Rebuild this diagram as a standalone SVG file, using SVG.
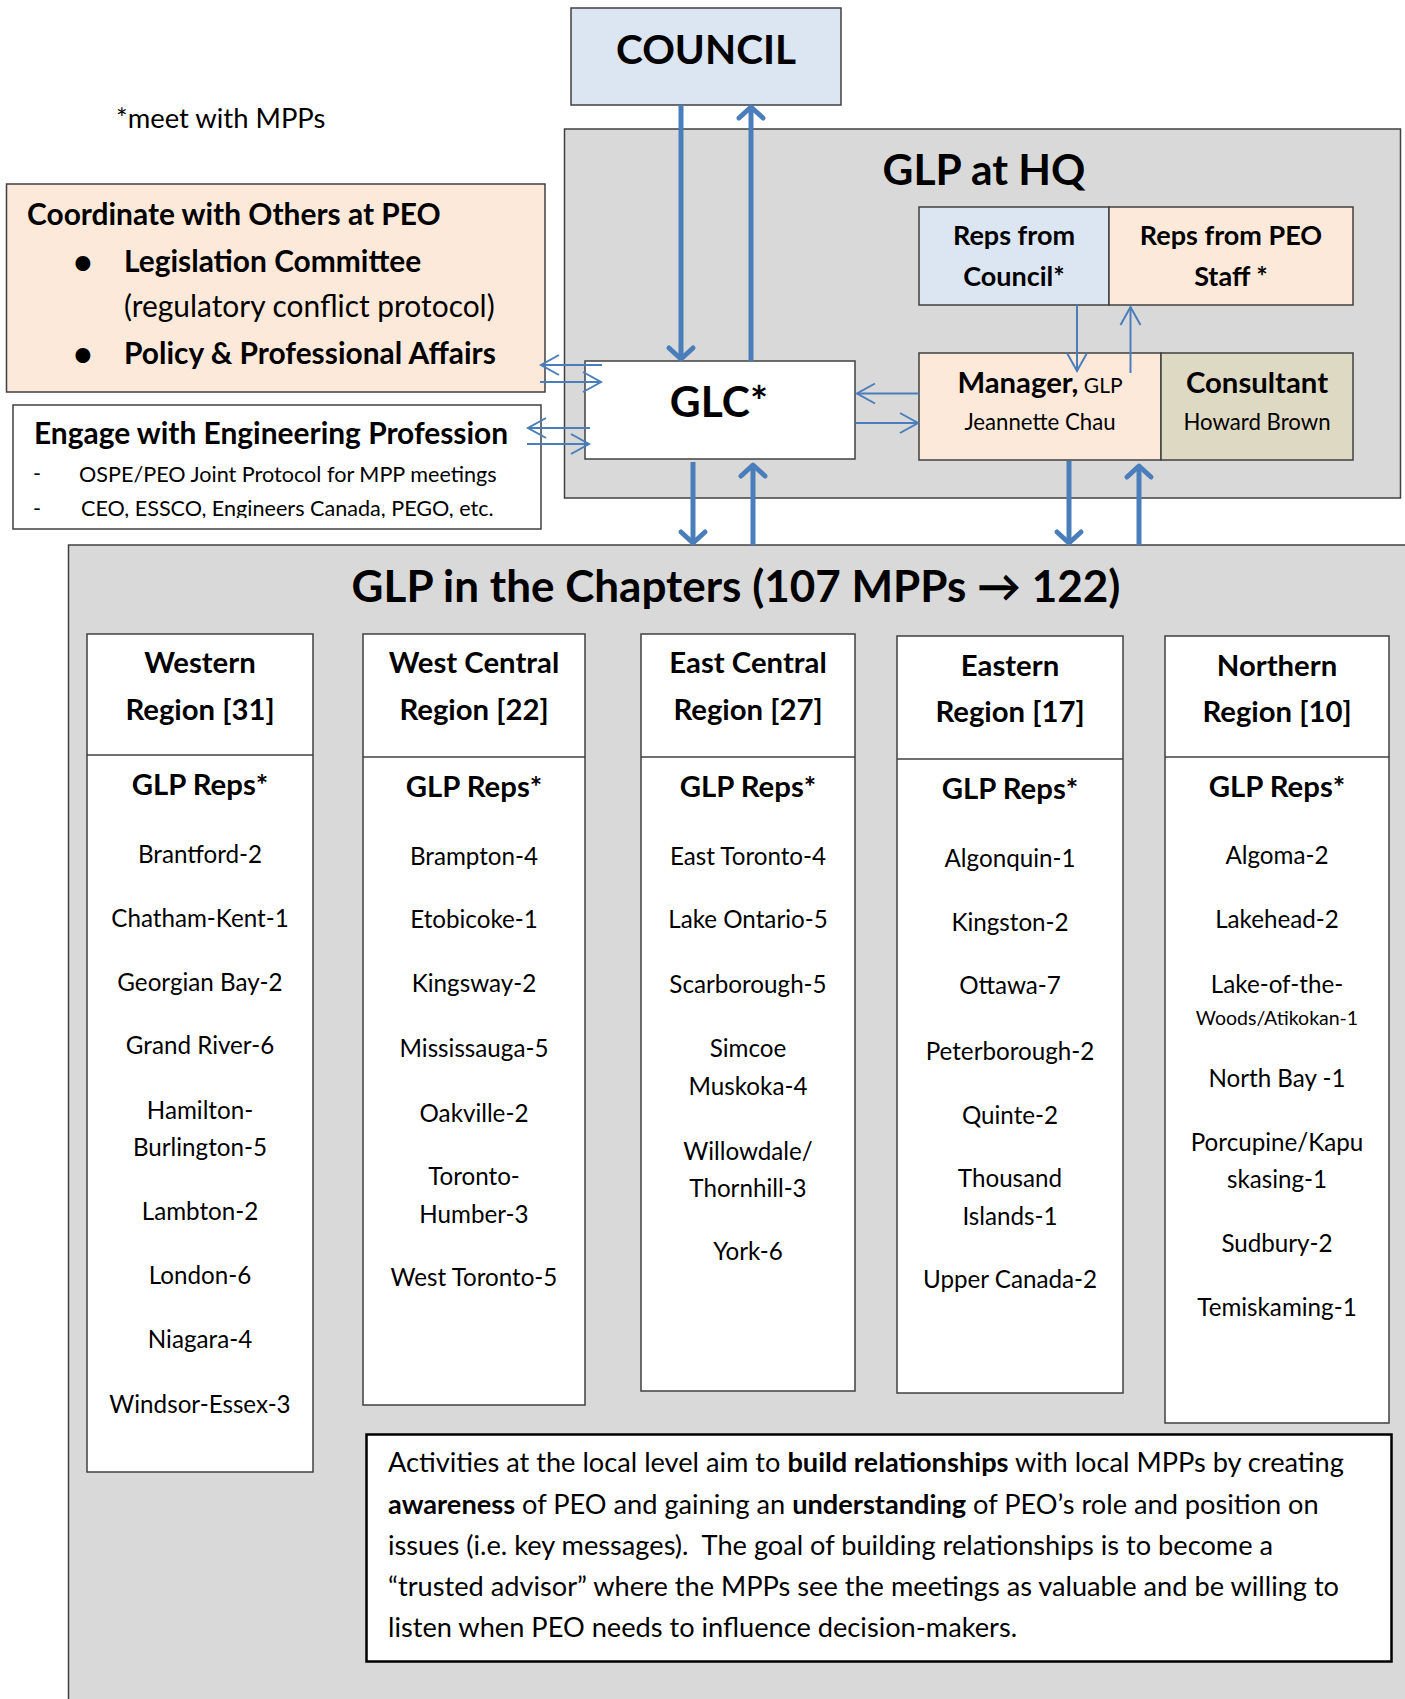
<svg xmlns="http://www.w3.org/2000/svg" width="1405" height="1699" viewBox="0 0 1405 1699">
<defs>
<style>
text{font-family:Lato,"Open Sans","Liberation Sans",sans-serif;fill:#000}
.b{font-weight:bold}
.c{text-anchor:middle}
.box{stroke:#404040;stroke-width:1.5}
.gray{fill:#D9D9D9}
.blue{fill:#DCE6F2}
.peach{fill:#FDE9D9}
.olive{fill:#DDD9C3}
.white{fill:#FFFFFF}
.e{font-size:24.2px}
.h{font-size:29.3px;font-weight:bold}
.big{font-size:42.5px;font-weight:bold}
.cb{font-size:29.9px}
.p{font-size:27.2px}
.thick{stroke:#4A7EBB;stroke-width:5;fill:none}
.thin{stroke:#4A7EBB;stroke-width:2;fill:none}
</style>
<marker id="mk" markerUnits="userSpaceOnUse" markerWidth="40" markerHeight="40" viewBox="-20 -20 40 40" refX="0" refY="0" orient="auto" overflow="visible">
<path d="M-11,-12 L0,0 L-11,12" fill="none" stroke="#4A7EBB" stroke-width="5" stroke-linecap="round" stroke-linejoin="round"/>
</marker>
<marker id="mt" markerUnits="userSpaceOnUse" markerWidth="40" markerHeight="40" viewBox="-20 -20 40 40" refX="0" refY="0" orient="auto" overflow="visible">
<path d="M-18,-10 L0,0 L-18,10" fill="none" stroke="#4A7EBB" stroke-width="2"/>
</marker>
<clipPath id="engclip"><rect x="13" y="405" width="528" height="113"/></clipPath>
</defs>
<rect width="1405" height="1699" fill="#FFFFFF"/>

<g id="hq-area">
<rect class="box gray" x="564.5" y="129" width="836" height="369"/>
<text class="big c" x="984" y="185">GLP at HQ</text>
</g>

<g id="chapters-area">
<rect class="box gray" x="68.5" y="545" width="1340" height="1200"/>
<text class="c b" x="736" y="602" style="font-size:44px">GLP in the Chapters (107 MPPs → 122)</text>
</g>

<text id="note" x="116" y="128" style="font-size:27.4px">*meet with MPPs</text>

<g id="council">
<rect class="box blue" x="571" y="8" width="270" height="97"/>
<text class="c b" x="706" y="64" style="font-size:40.5px">COUNCIL</text>
</g>

<g id="glc">
<rect class="box white" x="585" y="361" width="270" height="98"/>
<text class="big c" x="719" y="417">GLC*</text>
</g>

<g id="reps-council">
<rect class="box blue" x="919" y="207" width="190" height="98"/>
<text class="c b" x="1014" y="245" style="font-size:27px">Reps from</text>
<text class="c b" x="1014" y="286" style="font-size:27px">Council*</text>
</g>

<g id="reps-staff">
<rect class="box peach" x="1109" y="207" width="244" height="98"/>
<text class="c b" x="1231" y="245" style="font-size:27px">Reps from PEO</text>
<text class="c b" x="1231" y="286" style="font-size:27px">Staff *</text>
</g>

<g id="manager">
<rect class="box peach" x="919" y="353" width="242" height="107"/>
<text class="c" x="1040" y="393"><tspan class="b" style="font-size:29.3px">Manager,</tspan><tspan style="font-size:21px"> GLP</tspan></text>
<text class="c" x="1040" y="430" style="font-size:22.2px">Jeannette Chau</text>
</g>

<g id="consultant">
<rect class="box olive" x="1161" y="353" width="192" height="107"/>
<text class="c b" x="1257" y="393" style="font-size:29.3px">Consultant</text>
<text class="c" x="1257" y="430" style="font-size:22.2px">Howard Brown</text>
</g>

<g id="coordinate">
<rect class="box peach" x="6.5" y="184" width="538.5" height="208"/>
<text class="b cb" x="27" y="225">Coordinate with Others at PEO</text>
<text class="b" x="73" y="274" style="font-size:34px">•</text>
<text class="b cb" x="124" y="272">Legislation Committee</text>
<text class="cb" x="124" y="317">(regulatory conflict protocol)</text>
<text class="b" x="73" y="366" style="font-size:34px">•</text>
<text class="b cb" x="124" y="364">Policy &amp; Professional Affairs</text>
</g>

<g id="engage">
<rect class="box white" x="13" y="405" width="528" height="124"/>
<text class="b cb" x="34" y="444">Engage with Engineering Profession</text>
<g clip-path="url(#engclip)">
<text x="33" y="481" style="font-size:21.6px">-</text>
<text x="79" y="482" style="font-size:21.6px">OSPE/PEO Joint Protocol for MPP meetings</text>
<text x="33" y="516" style="font-size:21.6px">-</text>
<text x="81" y="516" style="font-size:21.6px">CEO, ESSCO, Engineers Canada, PEGO, etc.</text>
</g>
</g>

<g id="western">
<rect class="box white" x="87" y="634" width="226" height="838"/>
<line class="box" x1="87" y1="755" x2="313" y2="755"/>
<text class="h c" x="200" y="673">Western</text>
<text class="h c" x="200" y="720">Region [31]</text>
<text class="h c" x="200" y="795">GLP Reps*</text>
<text class="e c" x="200" y="863">Brantford-2</text>
<text class="e c" x="200" y="927">Chatham-Kent-1</text>
<text class="e c" x="200" y="991">Georgian Bay-2</text>
<text class="e c" x="200" y="1054">Grand River-6</text>
<text class="e c" x="200" y="1119">Hamilton-</text>
<text class="e c" x="200" y="1156">Burlington-5</text>
<text class="e c" x="200" y="1220">Lambton-2</text>
<text class="e c" x="200" y="1284">London-6</text>
<text class="e c" x="200" y="1348">Niagara-4</text>
<text class="e c" x="200" y="1413">Windsor-Essex-3</text>
</g>

<g id="west-central">
<rect class="box white" x="363" y="634" width="222" height="771"/>
<line class="box" x1="363" y1="757" x2="585" y2="757"/>
<text class="h c" x="474" y="673">West Central</text>
<text class="h c" x="474" y="720">Region [22]</text>
<text class="h c" x="474" y="797">GLP Reps*</text>
<text class="e c" x="474" y="865">Brampton-4</text>
<text class="e c" x="474" y="928">Etobicoke-1</text>
<text class="e c" x="474" y="992">Kingsway-2</text>
<text class="e c" x="474" y="1057">Mississauga-5</text>
<text class="e c" x="474" y="1122">Oakville-2</text>
<text class="e c" x="474" y="1185">Toronto-</text>
<text class="e c" x="474" y="1223">Humber-3</text>
<text class="e c" x="474" y="1286">West Toronto-5</text>
</g>

<g id="east-central">
<rect class="box white" x="641" y="634" width="214" height="757"/>
<line class="box" x1="641" y1="757" x2="855" y2="757"/>
<text class="h c" x="748" y="673">East Central</text>
<text class="h c" x="748" y="720">Region [27]</text>
<text class="h c" x="748" y="797">GLP Reps*</text>
<text class="e c" x="748" y="865">East Toronto-4</text>
<text class="e c" x="748" y="928">Lake Ontario-5</text>
<text class="e c" x="748" y="993">Scarborough-5</text>
<text class="e c" x="748" y="1057">Simcoe</text>
<text class="e c" x="748" y="1095">Muskoka-4</text>
<text class="e c" x="748" y="1160">Willowdale/</text>
<text class="e c" x="748" y="1197">Thornhill-3</text>
<text class="e c" x="748" y="1260">York-6</text>
</g>

<g id="eastern">
<rect class="box white" x="897" y="636" width="226" height="757"/>
<line class="box" x1="897" y1="759" x2="1123" y2="759"/>
<text class="h c" x="1010" y="676">Eastern</text>
<text class="h c" x="1010" y="722">Region [17]</text>
<text class="h c" x="1010" y="799">GLP Reps*</text>
<text class="e c" x="1010" y="867">Algonquin-1</text>
<text class="e c" x="1010" y="931">Kingston-2</text>
<text class="e c" x="1010" y="994">Ottawa-7</text>
<text class="e c" x="1010" y="1060">Peterborough-2</text>
<text class="e c" x="1010" y="1124">Quinte-2</text>
<text class="e c" x="1010" y="1187">Thousand</text>
<text class="e c" x="1010" y="1225">Islands-1</text>
<text class="e c" x="1010" y="1288">Upper Canada-2</text>
</g>

<g id="northern">
<rect class="box white" x="1165" y="636" width="224" height="787"/>
<line class="box" x1="1165" y1="757" x2="1389" y2="757"/>
<text class="h c" x="1277" y="676">Northern</text>
<text class="h c" x="1277" y="722">Region [10]</text>
<text class="h c" x="1277" y="797">GLP Reps*</text>
<text class="e c" x="1277" y="864">Algoma-2</text>
<text class="e c" x="1277" y="928">Lakehead-2</text>
<text class="e c" x="1277" y="993">Lake-of-the-</text>
<text class="c" x="1277" y="1025" style="font-size:19.5px">Woods/Atikokan-1</text>
<text class="e c" x="1277" y="1087">North Bay -1</text>
<text class="e c" x="1277" y="1151">Porcupine/Kapu</text>
<text class="e c" x="1277" y="1188">skasing-1</text>
<text class="e c" x="1277" y="1252">Sudbury-2</text>
<text class="e c" x="1277" y="1316">Temiskaming-1</text>
</g>

<g id="activities">
<rect x="366.5" y="1434.5" width="1025" height="227" fill="#FFFFFF" stroke="#000" stroke-width="2.5"/>
<text class="p" x="388" y="1472">Activities at the local level aim to <tspan class="b">build relationships</tspan> with local MPPs by creating</text>
<text class="p" x="388" y="1514"><tspan class="b">awareness</tspan> of PEO and gaining an <tspan class="b">understanding</tspan> of PEO’s role and position on</text>
<text class="p" x="388" y="1555" xml:space="preserve">issues (i.e. key messages).  The goal of building relationships is to become a</text>
<text class="p" x="388" y="1596">“trusted advisor” where the MPPs see the meetings as valuable and be willing to</text>
<text class="p" x="388" y="1637">listen when PEO needs to influence decision-makers.</text>
</g>

<g id="connectors">
<line class="thick" x1="681" y1="105" x2="681" y2="359" marker-end="url(#mk)"/>
<line class="thick" x1="751" y1="361" x2="751" y2="107" marker-end="url(#mk)"/>
<line class="thin" x1="919" y1="393.5" x2="857" y2="393.5" marker-end="url(#mt)"/>
<line class="thin" x1="856" y1="423" x2="918" y2="423" marker-end="url(#mt)"/>
<line class="thin" x1="1077" y1="305" x2="1077" y2="371" marker-end="url(#mt)"/>
<line class="thin" x1="1130.5" y1="373" x2="1130.5" y2="307" marker-end="url(#mt)"/>
<line class="thick" x1="693" y1="462" x2="693" y2="543" marker-end="url(#mk)"/>
<line class="thick" x1="753" y1="545" x2="753" y2="465" marker-end="url(#mk)"/>
<line class="thick" x1="1069" y1="461" x2="1069" y2="543" marker-end="url(#mk)"/>
<line class="thick" x1="1139" y1="545" x2="1139" y2="466" marker-end="url(#mk)"/>
<line class="thin" x1="602" y1="365" x2="541" y2="365" marker-end="url(#mt)"/>
<line class="thin" x1="540" y1="382" x2="601" y2="382" marker-end="url(#mt)"/>
<line class="thin" x1="590" y1="428" x2="528" y2="428" marker-end="url(#mt)"/>
<line class="thin" x1="527" y1="444" x2="589" y2="444" marker-end="url(#mt)"/>
</g>
</svg>
